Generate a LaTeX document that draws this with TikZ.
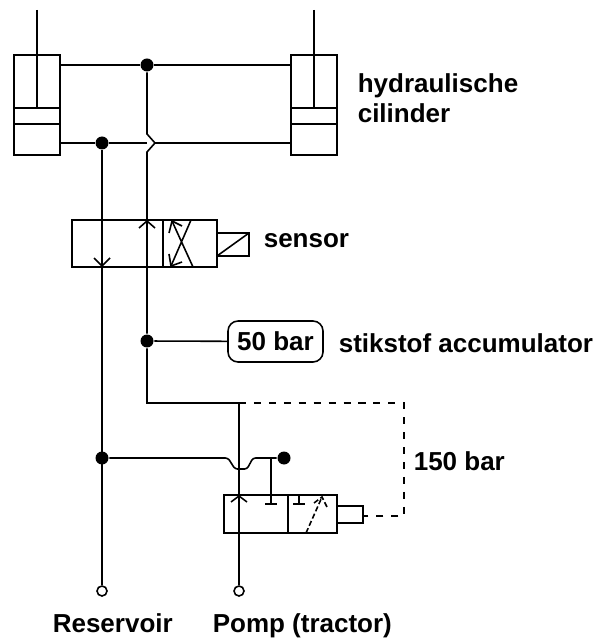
\documentclass[tikz,border=0pt]{standalone}
\usepackage{fontspec}
\setmainfont{Liberation Sans}
\usetikzlibrary{calc,positioning,shapes.misc,arrows}
\tikzset{
    box/.style={draw,rectangle,inner sep=0pt,outer sep=0pt},
    junction/.style={circle,fill=black,inner sep=0pt,minimum size=0.26cm},
    port/.style={circle,draw,fill=white,inner sep=0pt,minimum size=0.2cm},
    label/.style={inner sep=0pt,anchor=base west,font=\bfseries\fontsize{14.8}{16}\selectfont},
    pilot/.style={dash pattern=on 4pt off 4.5pt}
}
\begin{document}
\begin{tikzpicture}[x=0.02cm,y=-0.02cm,line width=0.9pt]
        \useasboundingbox (0,0) rectangle (594,641);
        % cilinders
        \node[box,minimum width=0.92cm,minimum height=2cm] (cylL) at (37,105) {};
        \node[box,minimum width=0.92cm,minimum height=2cm] (cylR) at (314,105) {};
        \draw (14,108) -- (60,108)  (14,124) -- (60,124);
        \draw (291,108) -- (337,108)  (291,124) -- (337,124);
        \draw (37,10) -- (37,108)  (314,10) -- (314,108);

        % valves
        \node[box,minimum width=2.9cm,minimum height=0.94cm] (sensorvalve) at (144.5,243.5) {};
        \node[box,minimum width=0.64cm,minimum height=0.46cm] (coil) at (233,244.5) {};
        \node[box,minimum width=2.26cm,minimum height=0.76cm] (pumpvalve) at (280.5,514) {};
        \node[box,minimum width=0.52cm,minimum height=0.34cm] (spring) at (350,514.5) {};
        \draw (163,220) -- (163,267)  (288,495) -- (288,533);
        \draw (coil.south west) -- (coil.north east);

        % junctions and ports
        \node[junction] (topjn) at (147,65) {};
        \node[junction] (cyljn) at (102,143) {};
        \node[junction] (accjn) at (147,341) {};
        \node[junction] (resjn) at (102,458) {};
        \node[junction] (endjn) at (284,458) {};
        \node[port] (reservoir) at (102,591) {};
        \node[port] (pomp) at (239,591) {};
        \node[box,rounded corners=0.2cm,minimum width=1.9cm,minimum height=0.82cm,font=\bfseries\fontsize{14.8}{16}\selectfont] (acc) at (275.5,341.5) {50 bar};

        % lines
        \draw (cylL.east |- topjn) -- (topjn) -- (cylR.west |- topjn);
        \draw (cylL.east |- cyljn) -- (cyljn) -- (147,143);
        \draw (155,143) -- (cylR.west |- cyljn);
        \draw (topjn) -- (147,134) -- (155,143) -- (147,152) -- (accjn) -- (147,403) -- (239,403) coordinate (split);
        \draw (cyljn) -- (reservoir);
        \draw (accjn) -- (acc);
        \draw (split) -- (pomp);
        \draw[rounded corners=0.05cm] (resjn) -- (228,458) -- (235,469) -- (247,469) -- (253,458) -- (endjn);
        \draw (271,458) -- (271,504)  (265,504) -- (277,504);
        \draw (299,495) -- (299,504)  (293,504) -- (305,504);
        \draw[pilot] (split) -- (404,403) -- (404,516) -- (spring.east |- 0,516);

        % arrows in the valves
        \draw (139,228) -- (147,221) -- (155,228);
        \draw (94,258) -- (102,266) -- (110,258);
        \draw (231,502) -- (239,496) -- (247,502);
        \draw (172,221) -- (193,267)  (191,220) -- (171,266);
        \draw (169,233) -- (172,221) -- (182,226);
        \draw (169,254) -- (171,266) -- (182,262);
        \draw[dash pattern=on 3pt off 1.5pt] (306,533) -- (322,497);
        \draw[dash pattern=on 3pt off 1.5pt] (314,503) -- (322,497) -- (327,507);

        % labels
        \node[label] (cyltxt) at (357,93) {hydraulische};
        \node[label] (cyltxtb) at (357,123) {cilinder};
        \node[label] (sensortxt) at (263,248) {sensor};
        \node[label] (acctxt) at (338,352) {stikstof accumulator};
        \node[label] (bartxt) at (413,470) {150 bar};
        \node[label] (restxt) at (52,632) {Reservoir};
        \node[label] (pomptxt) at (212,632) {Pomp (tractor)};
\end{tikzpicture}
\end{document}
